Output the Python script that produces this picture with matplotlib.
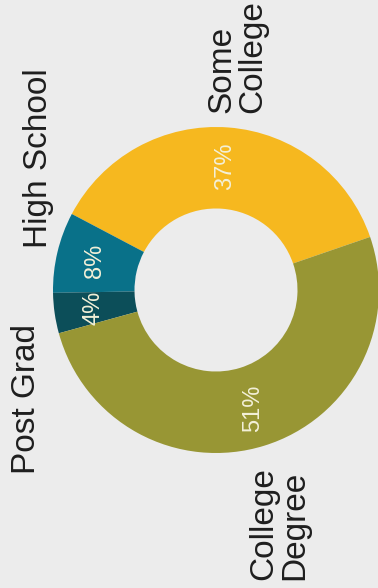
import matplotlib
matplotlib.use("Agg")
import matplotlib.pyplot as plt

categories = ["Some College", "High School", "Post Grad", "College Degree"]
values = [37, 8, 4, 51]
colors = ["#F6B81F", "#097189", "#0C4E59", "#989634"]
label_texts = ["Some\nCollege", "High School", "Post Grad", "College\nDegree"]

plt.rcParams['font.family'] = ['Liberation Sans', 'DejaVu Sans']
BG = "#ECECEC"

fig = plt.figure(figsize=(3.78, 5.88), dpi=100, facecolor=BG)
ax = fig.add_axes([0, 0, 1, 1])
ax.set_facecolor(BG)
ax.axis("off")

wedges, texts, autotexts = ax.pie(
    values, colors=colors, startangle=19, counterclock=True,
    radius=1.0, autopct=lambda p: f"{p:.0f}%", pctdistance=0.76,
    wedgeprops=dict(width=0.5, edgecolor="none"),
    textprops=dict(color="#F3F0D8", fontsize=17, rotation=90,
                   ha="center", va="center"))
for t in autotexts:
    t.set_rotation(90)

ax.set_xlim(-216 / 163, (378 - 216) / 163)
ax.set_ylim(-(588 - 290) / 163, 290 / 163)
ax.set_aspect("auto")

# outer labels (rotated layout)
label_pos = {
    "Some\nCollege": (0.13, 1.43),
    "High School": (-1.09, 0.81),
    "Post Grad": (-1.16, -0.67),
    "College\nDegree": (0.39, -1.43),
}
for lbl in label_texts:
    x, y = label_pos[lbl]
    ax.text(x, y, lbl, rotation=90, ha="center", va="center",
            fontsize=24, color="#1E1E1E", linespacing=1.0,
            multialignment="left")

fig.savefig("out.png", dpi=100, facecolor=BG)
